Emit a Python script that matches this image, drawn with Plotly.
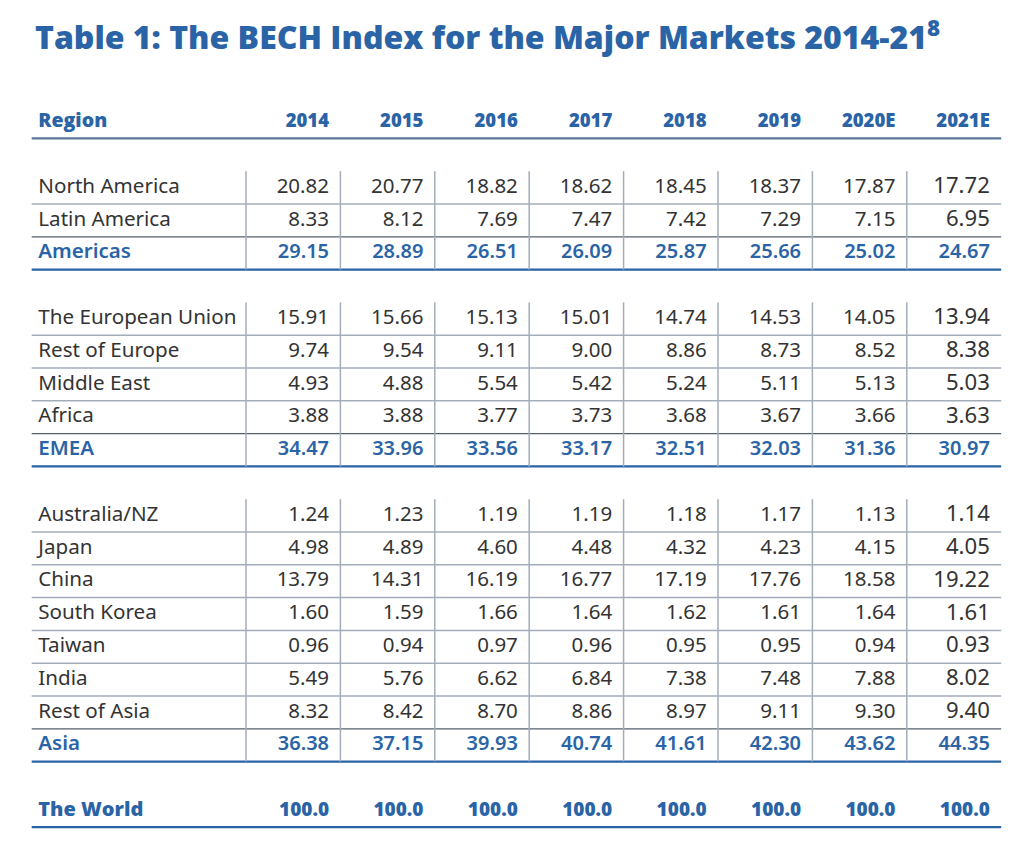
import plotly.graph_objects as go

# Data
years = ["2014", "2015", "2016", "2017", "2018", "2019", "2020E", "2021E"]

americas_regions = ["North America", "Latin America"]
americas_values = [
    [20.82, 20.77, 18.82, 18.62, 18.45, 18.37, 17.87, 17.72],
    [8.33, 8.12, 7.69, 7.47, 7.42, 7.29, 7.15, 6.95],
]
americas_total = [29.15, 28.89, 26.51, 26.09, 25.87, 25.66, 25.02, 24.67]

emea_regions = ["The European Union", "Rest of Europe", "Middle East", "Africa"]
emea_values = [
    [15.91, 15.66, 15.13, 15.01, 14.74, 14.53, 14.05, 13.94],
    [9.74, 9.54, 9.11, 9.00, 8.86, 8.73, 8.52, 8.38],
    [4.93, 4.88, 5.54, 5.42, 5.24, 5.11, 5.13, 5.03],
    [3.88, 3.88, 3.77, 3.73, 3.68, 3.67, 3.66, 3.63],
]
emea_total = [34.47, 33.96, 33.56, 33.17, 32.51, 32.03, 31.36, 30.97]

asia_regions = ["Australia/NZ", "Japan", "China", "South Korea", "Taiwan", "India", "Rest of Asia"]
asia_values = [
    [1.24, 1.23, 1.19, 1.19, 1.18, 1.17, 1.13, 1.14],
    [4.98, 4.89, 4.60, 4.48, 4.32, 4.23, 4.15, 4.05],
    [13.79, 14.31, 16.19, 16.77, 17.19, 17.76, 18.58, 19.22],
    [1.60, 1.59, 1.66, 1.64, 1.62, 1.61, 1.64, 1.61],
    [0.96, 0.94, 0.97, 0.96, 0.95, 0.95, 0.94, 0.93],
    [5.49, 5.76, 6.62, 6.84, 7.38, 7.48, 7.88, 8.02],
    [8.32, 8.42, 8.70, 8.86, 8.97, 9.11, 9.30, 9.40],
]
asia_total = [36.38, 37.15, 39.93, 40.74, 41.61, 42.30, 43.62, 44.35]

world_total = [100.0, 100.0, 100.0, 100.0, 100.0, 100.0, 100.0, 100.0]

groups = [
    ("Americas", americas_regions, americas_values, americas_total),
    ("EMEA", emea_regions, emea_values, emea_total),
    ("Asia", asia_regions, asia_values, asia_total),
]

BLUE = "#2a64a6"
SLATE = "#5d7896"
GRAY = "#a3adba"
DARK = "#333333"
BODY_FONT = "Noto Sans"
HEAD_FONT = "Open Sans"

LEFT = -2.27   # left edge of the table (column units)
RIGHT = 8.0    # right edge of the table
LABEL_X = -2.2
PAD = 0.12


def build_rows():
    """Lay out rows: header, blank, group rows, subtotal, blank ..., world"""
    rows = []
    spans = []
    rows.append(("Region", years, "header"))
    rows.append(None)
    for name, regions, values, total in groups:
        start = len(rows)
        for region, vals in zip(regions, values):
            rows.append((region, ["%.2f" % v for v in vals], "body"))
        rows.append((name, ["%.2f" % v for v in total], "total"))
        spans.append((start, len(rows) - 1))
        rows.append(None)
    rows.append(("The World", ["%.1f" % v for v in world_total], "world"))
    return rows, spans


rows, spans = build_rows()
fig = go.Figure()

styles = {
    "header": dict(color=BLUE, size=18.5, family=HEAD_FONT, weight=800),
    "body": dict(color=DARK, size=20.5, family=BODY_FONT, weight=400),
    "total": dict(color=BLUE, size=20, family=BODY_FONT, weight=600),
    "world": dict(color=BLUE, size=19, family=HEAD_FONT, weight=800),
}
label_sizes = {"header": 19.5, "body": 20.6, "total": 20.5, "world": 20}

# text
for kind, style in styles.items():
    lx, ly, lt, nx, ny, nt, ns = [], [], [], [], [], [], []
    for r, row in enumerate(rows):
        if row is None or row[2] != kind:
            continue
        label, vals, _ = row
        lx.append(LABEL_X)
        ly.append(r)
        lt.append(label)
        for c, v in enumerate(vals):
            nx.append(c + 1 - PAD)
            ny.append(r)
            nt.append(v)
            # last column is set a touch larger in the source
            big = kind == "body" and c == len(vals) - 1
            ns.append(style["size"] * (1.08 if big else 1.0))
    label_style = dict(style, size=label_sizes[kind])
    fig.add_trace(go.Scatter(x=lx, y=ly, text=lt, mode="text",
                             textposition="middle right",
                             textfont=label_style, hoverinfo="skip"))
    fig.add_trace(go.Scatter(x=nx, y=ny, text=nt, mode="text",
                             textposition="middle left",
                             textfont=dict(style, size=ns), hoverinfo="skip"))


def hline(y, color, width):
    fig.add_trace(go.Scatter(x=[LEFT, RIGHT], y=[y, y], mode="lines",
                             line=dict(color=color, width=width),
                             hoverinfo="skip"))


# horizontal rules
hline(0.5, SLATE, 2.2)
for start, end in spans:
    for r in range(start, end - 1):
        hline(r + 0.5, GRAY, 1.5)
    hline(end - 0.5, "#555f6b", 1.3)
    hline(end + 0.5, BLUE, 2.2)
hline(len(rows) - 0.5, BLUE, 2.2)

# vertical rules
for start, end in spans:
    vx, vy = [], []
    for c in range(len(years)):
        vx += [c, c, None]
        vy += [start - 0.5, end + 0.5, None]
    fig.add_trace(go.Scatter(x=vx, y=vy, mode="lines",
                             line=dict(color=GRAY, width=1.5),
                             hoverinfo="skip"))

# page body has an 8px margin, so the figure is 1008x834 and the ranges
# are set so the table lands where it sits in the source image
fig.update_layout(
    width=1008,
    height=834,
    autosize=False,
    margin=dict(l=0, r=0, t=0, b=0),
    paper_bgcolor="white",
    plot_bgcolor="white",
    showlegend=False,
    title=dict(
        text="Table 1: The BECH Index for the Major Markets 2014-21<sup>8</sup>",
        x=27 / 1008, xanchor="left", xref="paper",
        y=1 - 30 / 834, yanchor="middle", yref="container",
        font=dict(family=HEAD_FONT, size=32, color=BLUE, weight=800),
    ),
    xaxis=dict(range=[-2.521, 8.157], visible=False, fixedrange=True),
    yaxis=dict(range=[21.951, -3.476], visible=False, fixedrange=True),
)

fig.write_html("out.html")
